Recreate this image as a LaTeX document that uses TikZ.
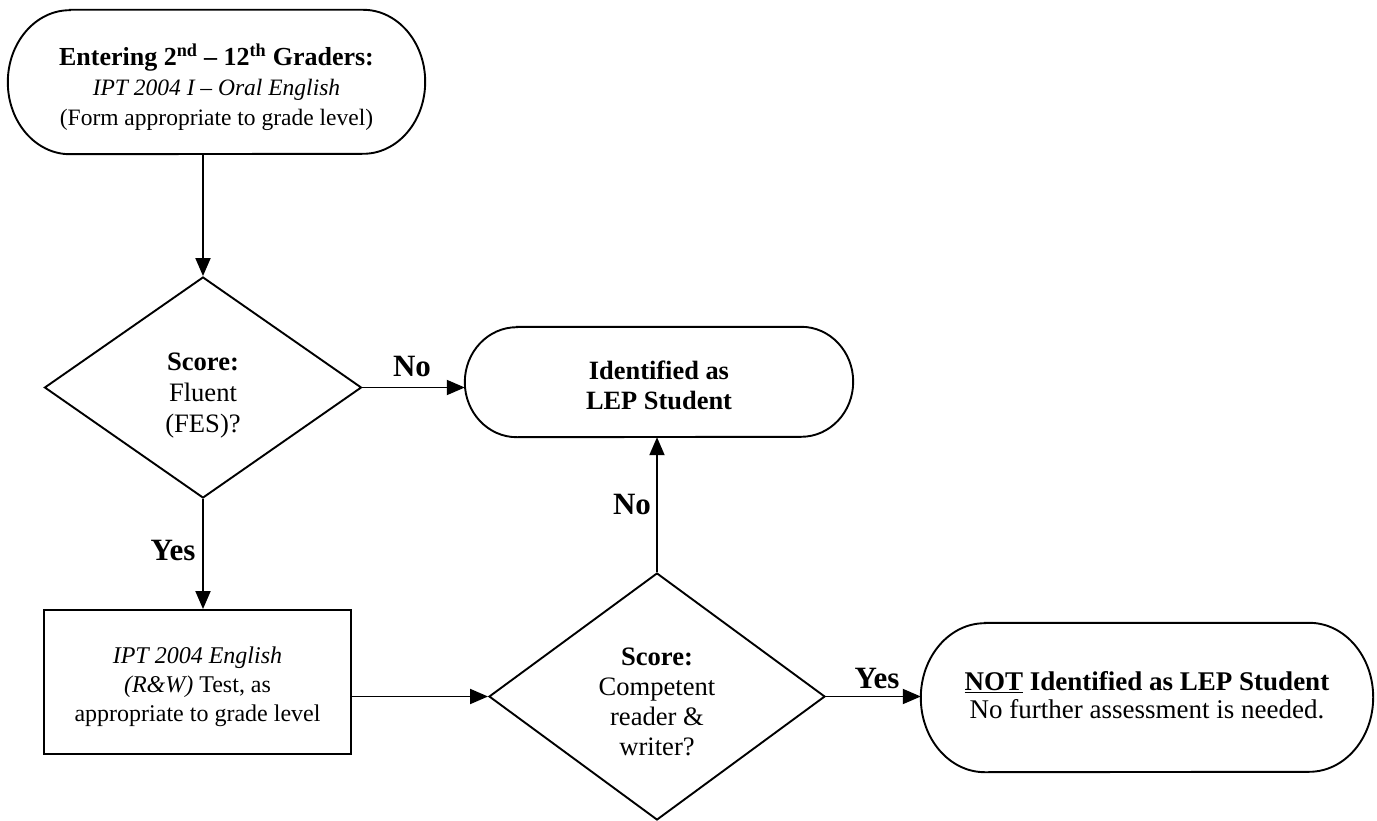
\documentclass[tikz,border=0pt]{standalone}
\usepackage{fontspec}
\setmainfont{Liberation Serif}
\usetikzlibrary{arrows.meta,shapes.geometric}
\tikzset{
  ln/.style={line width=1.9pt, line join=miter},
  arr/.style={ln, -{Triangle[length=18pt,width=15pt]}},
  frame/.style={draw=none, inner sep=0pt},
  dia/.style={diamond, draw, ln, inner sep=0pt, aspect=1.4},
  box/.style={rectangle, draw, ln, inner sep=0pt},
  txt/.style={align=center, inner sep=0pt},
  lbl/.style={inner sep=0pt, font=\fontsize{31}{34}\selectfont\bfseries}
}
\newcommand\termframe[3]{%
  \draw[ln] ([xshift=#2]#1.north west) -- ([xshift=-#2]#1.north east)
    arc[start angle=90, end angle=-90, x radius=#2, y radius=#3]
    -- ([xshift=#2]#1.south west)
    arc[start angle=270, end angle=90, x radius=#2, y radius=#3] -- cycle;}
\begin{document}
\begin{tikzpicture}[x=1pt, y=-1pt]
\useasboundingbox (0,0) rectangle (1377,821);
% frames
\node[frame, minimum width=417pt, minimum height=144pt] (top) at (216.5,82) {};
\termframe{top}{62pt}{72pt}
\node[txt, font=\fontsize{23.5}{30}\selectfont] (toptxt) at (216.5,87)
  {{\fontsize{26}{30}\selectfont\textbf{Entering 2\textsuperscript{nd} – 12\textsuperscript{th} Graders:}}\\
   \textit{IPT 2004 I – Oral English}\\
   (Form appropriate to grade level)};

\node[dia, minimum width=317pt, minimum height=221pt] (d1) at (203,387.5) {};
\node[txt, font=\fontsize{26.6}{31}\selectfont] (d1txt) at (203,396)
  {\textbf{Score:}\\ Fluent\\ (FES)?};

\node[frame, minimum width=388pt, minimum height=110pt] (lep) at (659,382) {};
\termframe{lep}{52pt}{55pt}
\node[txt, font=\fontsize{26.4}{30}\selectfont\bfseries] (leptxt) at (659,385)
  {Identified as\\ LEP Student};

\node[box, minimum width=307pt, minimum height=144pt] (rect) at (197.5,682) {};
\node[txt, font=\fontsize{24}{29}\selectfont] (recttxt) at (197.5,687)
  {\textit{IPT 2004 English}\\ \textit{(R\&W)} Test, as\\ appropriate to grade level};

\node[dia, minimum width=336pt, minimum height=247pt] (d2) at (657,696.5) {};
\node[txt, font=\fontsize{26.6}{30}\selectfont] (d2txt) at (657,702)
  {\textbf{Score:}\\ Competent\\ reader \&\\ writer?};

\node[frame, minimum width=452pt, minimum height=149pt] (not) at (1147,697.5) {};
\termframe{not}{64pt}{74.5pt}
\node[txt, font=\fontsize{27}{28}\selectfont] (nottxt) at (1147,695)
  {\textbf{\underline{NOT} Identified as LEP Student}\\ No further assessment is needed.};

% connectors
\draw[arr] (d1.north |- top.south) -- (d1.north);
\draw[arr] (d1.east) -- (d1.east -| lep.west);
\draw[arr] (d1.south) -- (d1.south |- rect.north);
\draw[arr] (rect.east |- d2.west) -- (d2.west);
\draw[arr] (d2.north) -- (d2.north |- lep.south);
\draw[arr] (d2.east) -- (d2.east -| not.west);

% labels
\node[lbl] (l1) at (412,367) {No};
\node[lbl] (l2) at (173,550) {Yes};
\node[lbl] (l3) at (632,505) {No};
\node[lbl] (l4) at (877,678) {Yes};
\end{tikzpicture}
\end{document}
